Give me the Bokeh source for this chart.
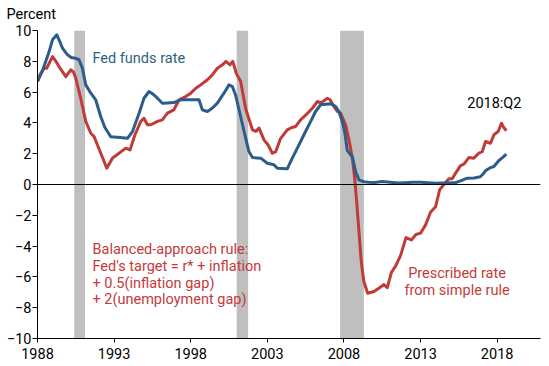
from bokeh.plotting import figure
from bokeh.models import FixedTicker, Span, Range1d
from bokeh.core.properties import value
from bokeh.embed import file_html
from bokeh.resources import INLINE

# ---- data ----
ff_year = [1988.0, 1988.33, 1988.54, 1988.75, 1988.98, 1989.26, 1989.45, 1989.63, 1989.96,
           1990.2, 1990.45, 1990.71, 1990.93, 1991.15, 1991.48, 1991.8, 1992.13, 1992.4,
           1992.78, 1993.4, 1993.87, 1994.2, 1994.63, 1994.95, 1995.28, 1995.5, 1995.72,
           1996.15, 1996.5, 1996.9, 1997.35, 1997.8, 1998.2, 1998.54, 1998.76, 1999.09,
           1999.4, 1999.74, 2000.17, 2000.5, 2000.72, 2000.93, 2001.26, 2001.59, 2001.8,
           2002.03, 2002.57, 2003.0, 2003.43, 2003.65, 2004.3, 2004.63, 2004.96, 2005.39,
           2005.83, 2006.15, 2006.48, 2007.13, 2007.46, 2007.67, 2007.89, 2008.05, 2008.22,
           2008.55, 2008.76, 2008.98, 2009.3, 2009.6, 2010.0, 2010.5, 2011.0, 2011.5,
           2012.0, 2012.5, 2013.0, 2013.5, 2014.0, 2014.5, 2015.0, 2015.3, 2015.61,
           2016.05, 2016.5, 2016.9, 2017.1, 2017.24, 2017.57, 2017.79, 2018.1, 2018.35, 2018.6]
ff_rate = [6.69, 7.4, 8.0, 8.6, 9.4, 9.72, 9.3, 8.85, 8.42,
           8.25, 8.2, 8.1, 7.55, 6.47, 5.93, 5.5, 4.4, 3.7,
           3.1, 3.05, 3.0, 3.44, 4.63, 5.6, 6.04, 5.9, 5.71,
           5.28, 5.3, 5.32, 5.5, 5.5, 5.5, 5.5, 4.85, 4.74,
           4.95, 5.28, 5.93, 6.47, 6.36, 5.8, 4.4, 3.0, 2.14,
           1.75, 1.71, 1.38, 1.28, 1.06, 1.02, 1.71, 2.36, 3.23,
           4.1, 4.74, 5.18, 5.25, 5.06, 4.74, 4.1, 3.4, 2.2,
           1.8, 0.84, 0.3, 0.18, 0.15, 0.13, 0.19, 0.14, 0.09,
           0.12, 0.15, 0.14, 0.11, 0.08, 0.1, 0.12, 0.13, 0.24,
           0.41, 0.42, 0.5, 0.7, 0.89, 1.1, 1.17, 1.54, 1.74, 1.97]

rule_year = [1988.0, 1988.2, 1988.43, 1988.6, 1988.98, 1989.2, 1989.4, 1989.85, 1990.17,
             1990.35, 1990.5, 1990.82, 1991.15, 1991.48, 1991.7, 1992.13, 1992.52, 1992.89,
             1993.32, 1993.76, 1994.04, 1994.35, 1994.74, 1994.95, 1995.17, 1995.4, 1995.83,
             1996.15, 1996.48, 1996.9, 1997.24, 1997.67, 1998.0, 1998.33, 1998.65, 1999.09,
             1999.41, 1999.74, 2000.07, 2000.3, 2000.56, 2000.75, 2000.98, 2001.26, 2001.59,
             2002.03, 2002.25, 2002.46, 2002.78, 2003.04, 2003.33, 2003.55, 2003.87, 2004.3,
             2004.6, 2004.85, 2005.17, 2005.5, 2005.94, 2006.27, 2006.5, 2006.92, 2007.1,
             2007.35, 2007.57, 2007.78, 2008.11, 2008.33, 2008.55, 2008.7, 2008.83, 2008.98,
             2009.13, 2009.3, 2009.55, 2009.96, 2010.28, 2010.61, 2010.83, 2011.1, 2011.37,
             2011.7, 2012.05, 2012.4, 2012.7, 2013.0, 2013.33, 2013.65, 2013.98, 2014.25,
             2014.52, 2014.85, 2015.07, 2015.29, 2015.61, 2015.83, 2016.15, 2016.48, 2016.8,
             2017.03, 2017.24, 2017.57, 2017.79, 2018.07, 2018.28, 2018.43, 2018.6]
rule_rate = [6.69, 7.2, 7.55, 7.55, 8.3, 8.0, 7.66, 7.0, 7.45,
             7.3, 6.9, 5.6, 4.1, 3.33, 3.1, 2.03, 1.06, 1.71,
             2.03, 2.36, 2.25, 3.2, 4.1, 4.3, 3.88, 3.88, 4.1,
             4.2, 4.63, 4.85, 5.5, 5.71, 5.93, 6.25, 6.47, 6.8,
             7.12, 7.55, 7.77, 7.99, 7.77, 8.0, 7.2, 6.69, 4.9,
             3.55, 3.45, 3.66, 2.9, 2.58, 2.03, 2.14, 3.0, 3.55,
             3.7, 3.77, 4.2, 4.5, 4.95, 5.39, 5.3, 5.6, 5.5,
             5.06, 4.74, 4.63, 3.88, 2.9, 1.71, 0.41, -1.1, -3.05,
             -5.0, -6.3, -7.06, -6.95, -6.73, -6.5, -6.7, -5.7, -5.3,
             -4.6, -3.45, -3.6, -3.25, -3.16, -2.62, -1.8, -1.45, -0.34,
             0.0, 0.37, 0.37, 0.74, 1.23, 1.32, 1.75, 1.71, 2.03,
             2.14, 2.79, 2.68, 3.23, 3.44, 3.98, 3.7, 3.49]

recession_start = [1990.4, 2001.0, 2007.75]
recession_end = [1991.1, 2001.75, 2009.3]

x_ticks = [1988, 1993, 1998, 2003, 2008, 2013, 2018]
y_ticks = [-10, -8, -6, -4, -2, 0, 2, 4, 6, 8, 10]

FONT = "Roboto"
BLUE = "#2b5c8a"
RED = "#c03a38"
RED_TEXT = "#c23b3b"

p = figure(width=549, height=366, output_backend="svg", toolbar_location=None,
           x_range=Range1d(1988, 2020.83), y_range=Range1d(-10, 10),
           min_border_left=37, min_border_right=9, min_border_top=29, min_border_bottom=28,
           title="Percent")
p.outline_line_color = None
p.grid.visible = False
p.background_fill_color = "white"

p.title.text_font = FONT
p.title.text_font_size = "14.5px"
p.title.text_font_style = "normal"
p.title.text_color = "black"
p.title.align = "left"
p.title.vertical_align = "top"
p.title.offset = -31
p.title.standoff = 11

# recession bars
p.quad(left=recession_start, right=recession_end, bottom=-10, top=10,
       fill_color="#bfbfbf", line_color=None)

# zero line
p.add_layout(Span(location=0, dimension="width", line_color="black", line_width=1))

# series
p.line(rule_year, rule_rate, line_color=RED, line_width=3, line_join="round")
p.line(ff_year, ff_rate, line_color=BLUE, line_width=3, line_join="round")

# axes
for ax in (p.xaxis[0], p.yaxis[0]):
    ax.axis_line_color = "black"
    ax.major_tick_line_color = "black"
    ax.minor_tick_line_color = None
    ax.major_tick_in = 0
    ax.major_label_text_font = FONT
    ax.major_label_text_font_size = "14.5px"
    ax.major_label_text_color = "black"
p.xaxis.ticker = FixedTicker(ticks=x_ticks)
p.yaxis.ticker = FixedTicker(ticks=y_ticks)
p.xaxis.major_tick_out = 4
p.xaxis.major_label_standoff = 5
p.yaxis.major_tick_out = 5
p.yaxis.major_label_standoff = 1

# texts
p.text(x=[1991.59], y=[8.2], text=["Fed funds rate"], text_font=value(FONT),
       text_font_size="14.5px", text_color="#2e6280", text_baseline="alphabetic")
p.text(x=[2016.05], y=[5.28], text=["2018:Q2"], text_font=value(FONT),
       text_font_size="14.5px", text_color="black", text_baseline="alphabetic")

rule_lines = ["Balanced-approach rule:", "Fed's target = r* + inflation",
              "+ 0.5(inflation gap)", "+ 2(unemployment gap)"]
rule_y = [-4.24, -5.32, -6.41, -7.49]
p.text(x=[1991.59] * 4, y=rule_y, text=rule_lines, text_font=value(FONT),
       text_font_size="14.5px", text_color=RED_TEXT, text_baseline="alphabetic")

p.text(x=[2015.38, 2015.38], y=[-5.76, -6.9], text=["Prescribed rate", "from simple rule"],
       text_font=value(FONT), text_font_size="14.5px", text_color=RED_TEXT,
       text_baseline="alphabetic", text_align="center")

open("out.html", "w").write(file_html(p, INLINE))
